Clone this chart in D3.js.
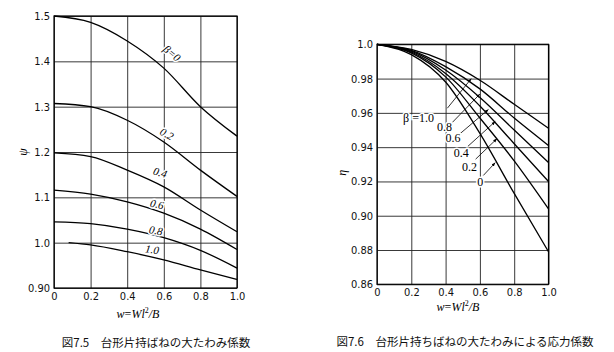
<!DOCTYPE html>
<html>
<head>
<meta charset="utf-8">
<script src="https://cdn.jsdelivr.net/npm/d3@7"></script>
<style>
  body { margin: 0; background: #fff; }
  svg { display: block; }
  .tick text { font-family: "Liberation Sans Narrow", "DejaVu Sans Condensed", "Liberation Sans", sans-serif; font-size: 11px; fill: #111; }
  .grid line { stroke: #222; stroke-width: 0.9; }
  .curve { fill: none; stroke: #000; stroke-width: 1.3; }
  .lbl { font-family: "Liberation Serif", "DejaVu Serif", serif; font-style: italic; font-size: 11px; fill: #000;
         paint-order: stroke; stroke: #fff; stroke-width: 3px; }
  .rlbl { font-family: "Liberation Sans Narrow", "Liberation Serif", serif; font-size: 12px; fill: #000;
          paint-order: stroke; stroke: #fff; stroke-width: 3px; }
  .axlbl { font-family: "Liberation Serif", "DejaVu Serif", serif; font-style: italic; font-size: 12px; fill: #000; }
  .cap { font-family: "Noto Sans CJK JP", sans-serif; font-size: 11.5px; fill: #111; }
</style>
</head>
<body>
<svg id="chart" width="614" height="352"></svg>
<script>
// ---- data ----
const wTicks = [0, 0.2, 0.4, 0.6, 0.8, 1.0];
const wTickLabels = ["0", "0.2", "0.4", "0.6", "0.8", "1.0"];

// fig 7.5: deflection factor psi vs w, one curve per beta
const psiTicks = [1.5, 1.4, 1.3, 1.2, 1.1, 1.0, 0.9];
const psiTickLabels = ["1.5", "1.4", "1.3", "1.2", "1.1", "1.0", "0.90"];
const psiW = [0, 0.2, 0.4, 0.6, 0.8, 1.0];
const psiB0  = [1.500, 1.486, 1.445, 1.385, 1.300, 1.235];
const psiB02 = [1.307, 1.300, 1.270, 1.222, 1.160, 1.102];
const psiB04 = [1.198, 1.190, 1.160, 1.123, 1.072, 1.024];
const psiB06 = [1.116, 1.107, 1.090, 1.065, 1.030, 0.985];
const psiB08 = [1.046, 1.042, 1.030, 1.011, 0.983, 0.944];
const psiW10 = [0.08, 0.2, 0.4, 0.6, 0.8, 1.0];
const psiB10 = [1.000, 0.995, 0.980, 0.962, 0.940, 0.919];
// label text, w, psi, angle
const psiLabels = [
  ["β=0", 0.645, 1.418, 40],
  ["0.2", 0.617, 1.240, 28],
  ["0.4", 0.580, 1.155, 16],
  ["0.6", 0.563, 1.085, 12],
  ["0.8", 0.557, 1.027, 10],
  ["1.0", 0.536, 0.985, 8]
];

// fig 7.6: stress factor eta vs w
const etaTicks = [1.0, 0.98, 0.96, 0.94, 0.92, 0.90, 0.88, 0.86];
const etaTickLabels = ["1.0", "0.98", "0.96", "0.94", "0.92", "0.90", "0.88", "0.86"];
const etaW = [0, 0.2, 0.4, 0.6, 0.8, 1.0];
const etaB10 = [1, 0.9970, 0.990, 0.979, 0.965, 0.951];
const etaB08 = [1, 0.9965, 0.987, 0.974, 0.957, 0.941];
const etaB06 = [1, 0.9960, 0.985, 0.969, 0.950, 0.931];
const etaB04 = [1, 0.9955, 0.983, 0.964, 0.942, 0.920];
const etaB02 = [1, 0.9950, 0.981, 0.957, 0.932, 0.904];
const etaB0  = [1, 0.9940, 0.978, 0.948, 0.913, 0.879];
// label text, label w, label eta (middle), leader start w/eta, arrow tip w/eta
const etaLabels = [
  ["β =1.0", 0.152, 0.9573, 0.41, 0.9627, 0.55, 0.980],
  ["0.8",    0.350, 0.9517, 0.44, 0.9545, 0.60, 0.971],
  ["0.6",    0.400, 0.9453, 0.48, 0.9475, 0.65, 0.962],
  ["0.4",    0.447, 0.9366, 0.53, 0.9405, 0.69, 0.955],
  ["0.2",    0.495, 0.9284, 0.575, 0.9330, 0.70, 0.945],
  ["0",      0.585, 0.9197, 0.62, 0.9235, 0.69, 0.931]
];

const svg = d3.select("#chart");
const defs = svg.append("defs");
defs.append("marker").attr("id", "arr").attr("viewBox", "0 0 10 10")
  .attr("refX", 10).attr("refY", 5).attr("markerWidth", 5).attr("markerHeight", 5)
  .attr("orient", "auto")
  .append("path").attr("d", "M0,1 L10,5 L0,9 Z").attr("fill", "#000");

function panel(g, x, y, yTicks, yTickLabels) {
  const [x0, x1] = x.range(), [yb, yt] = y.range();
  // grid + labels via axes
  g.append("g").attr("class", "grid")
    .attr("transform", `translate(0,${yb})`)
    .call(d3.axisBottom(x).tickValues(wTicks).tickSize(-(yb - yt)).tickPadding(4)
      .tickFormat((d, i) => wTickLabels[i]))
    .call(a => a.select(".domain").remove());
  g.append("g").attr("class", "grid")
    .attr("transform", `translate(${x0},0)`)
    .call(d3.axisLeft(y).tickValues(yTicks).tickSize(-(x1 - x0)).tickPadding(4)
      .tickFormat((d, i) => yTickLabels[i]))
    .call(a => a.select(".domain").remove());
  g.append("rect").attr("x", x0).attr("y", yt).attr("width", x1 - x0).attr("height", yb - yt)
    .attr("fill", "none").attr("stroke", "#000").attr("stroke-width", 1.2);
}

function drawCurve(g, x, y, ws, vs) {
  const line = d3.line().x(d => x(d[0])).y(d => y(d[1])).curve(d3.curveMonotoneX);
  g.append("path").attr("class", "curve").attr("d", line(ws.map((w, i) => [w, vs[i]])));
}

// ---- left: fig 7.5 ----
const xL = d3.scaleLinear().domain([0, 1]).range([54, 237]);
const yL = d3.scaleLinear().domain([0.9, 1.5]).range([288, 16]);
const gL = svg.append("g");
panel(gL, xL, yL, psiTicks, psiTickLabels);
[psiB0, psiB02, psiB04, psiB06, psiB08].forEach(v => drawCurve(gL, xL, yL, psiW, v));
drawCurve(gL, xL, yL, psiW10, psiB10);
psiLabels.forEach(([t, w, p, a]) => {
  gL.append("text").attr("class", "lbl")
    .attr("transform", `translate(${xL(w)},${yL(p)}) rotate(${a})`)
    .attr("text-anchor", "middle").attr("dy", "0.35em").text(t);
});
gL.append("text").attr("class", "axlbl")
  .attr("transform", `translate(23,${yL(1.2)}) rotate(-90)`)
  .attr("text-anchor", "middle").attr("dy", "0.35em").text("ψ");
gL.append("text").attr("class", "axlbl").attr("x", 138).attr("y", 318).attr("text-anchor", "middle")
  .html('w<tspan font-style="normal">=</tspan>Wl<tspan dy="-5" font-size="8" font-style="normal">2</tspan><tspan dy="5">/B</tspan>');
gL.append("text").attr("class", "cap").attr("x", 156).attr("y", 347).attr("text-anchor", "middle")
  .text("図7.5　台形片持ばねの大たわみ係数");

// ---- right: fig 7.6 ----
const xR = d3.scaleLinear().domain([0, 1]).range([377, 548.5]);
const yR = d3.scaleLinear().domain([0.86, 1.0]).range([284.3, 44.3]);
const gR = svg.append("g");
panel(gR, xR, yR, etaTicks, etaTickLabels);
[etaB10, etaB08, etaB06, etaB04, etaB02, etaB0].forEach(v => drawCurve(gR, xR, yR, etaW, v));
etaLabels.forEach(([t, lw, le, sw, se, tw, te]) => {
  gR.append("line")
    .attr("x1", xR(sw)).attr("y1", yR(se)).attr("x2", xR(tw)).attr("y2", yR(te))
    .attr("stroke", "#000").attr("stroke-width", 0.8).attr("marker-end", "url(#arr)");
  gR.append("text").attr("class", "rlbl")
    .attr("x", xR(lw)).attr("y", yR(le)).attr("dy", "0.35em").text(t);
});
gR.append("text").attr("class", "axlbl")
  .attr("transform", `translate(342,${yR(0.925)}) rotate(-90)`)
  .attr("text-anchor", "middle").attr("dy", "0.35em").text("η");
gR.append("text").attr("class", "axlbl").attr("x", 458).attr("y", 311).attr("text-anchor", "middle")
  .html('w<tspan font-style="normal">=</tspan>Wl<tspan dy="-5" font-size="8" font-style="normal">2</tspan><tspan dy="5">/B</tspan>');
gR.append("text").attr("class", "cap").attr("x", 465).attr("y", 346).attr("text-anchor", "middle")
  .text("図7.6　台形片持ちばねの大たわみによる応力係数");
</script>
</body>
</html>
